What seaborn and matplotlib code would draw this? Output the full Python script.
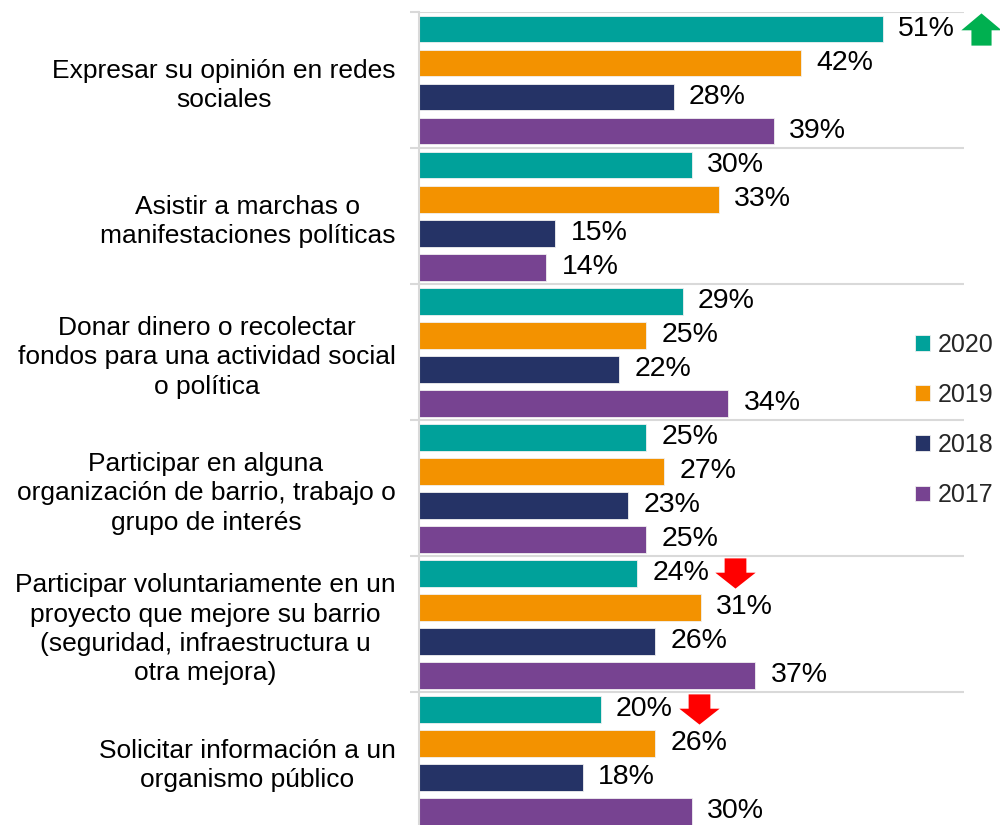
import numpy as np
import pandas as pd
import matplotlib
matplotlib.use("Agg")
import matplotlib.pyplot as plt
from matplotlib.path import Path
import seaborn as sns

categories = [
    "Expresar su opinión en redes\nsociales",
    "Asistir a marchas o\nmanifestaciones políticas",
    "Donar dinero o recolectar\nfondos para una actividad social\no política",
    "Participar en alguna\norganización de barrio, trabajo o\ngrupo de interés",
    "Participar voluntariamente en un\nproyecto que mejore su barrio\n(seguridad, infraestructura u\notra mejora)",
    "Solicitar información a un\norganismo público",
]
years = ["2020", "2019", "2018", "2017"]
v2020 = [51, 30, 29, 25, 24, 20]
v2019 = [42, 33, 25, 27, 31, 26]
v2018 = [28, 15, 22, 23, 26, 18]
v2017 = [39, 14, 34, 25, 37, 30]
series = {"2020": v2020, "2019": v2019, "2018": v2018, "2017": v2017}
colors = ["#00A19A", "#F39200", "#253366", "#774391"]

# trend arrows: (category index, year, direction)
arrows = [(0, "2020", "up"), (4, "2020", "down"), (5, "2020", "down")]

rows = []
for y in years:
    for c, v in zip(categories, series[y]):
        rows.append({"cat": c, "year": y, "val": v})
df = pd.DataFrame(rows)

sns.set_theme(style="white")
plt.rcParams["font.family"] = ["Liberation Sans", "DejaVu Sans"]

fig = plt.figure(figsize=(10, 8.25), dpi=100)
ax = fig.add_axes([0.419, -0.004, 0.5455, 0.98945])

sns.barplot(data=df, y="cat", x="val", hue="year", hue_order=years,
            order=categories, palette=colors, orient="h", width=1.0, gap=0.21,
            saturation=1, edgecolor="#f0f0f0", linewidth=0.6, ax=ax, errorbar=None)

for cont in ax.containers:
    ax.bar_label(cont, fmt="{:.0f}%", padding=11, fontsize=20.5, color="black")

ax.set_xlim(0, 60)
ax.set_ylim(len(categories) - 0.5, -0.5)
ax.set_xlabel("")
ax.set_ylabel("")
ax.set_xticks([])
for s in ["top", "right", "bottom"]:
    ax.spines[s].set_visible(False)
ax.spines["left"].set_color("#d9d9d9")
ax.spines["left"].set_linewidth(1.5)

ax.set_yticks(np.arange(-0.5, len(categories)), minor=True)
ax.grid(which="minor", axis="y", color="#d9d9d9", lw=1.5)
ax.grid(which="major", visible=False)
ax.tick_params(axis="y", which="minor", length=6.5, width=1.5, color="#d9d9d9", left=True)
ax.tick_params(axis="y", which="major", length=0, pad=17, labelsize=19, labelcolor="black")
for lbl in ax.get_yticklabels():
    lbl.set_multialignment("center")
    lbl.set_linespacing(1.28)

sns.move_legend(ax, "center left", bbox_to_anchor=(0.915, 0.491),
                bbox_transform=fig.transFigure, frameon=False, title=None,
                fontsize=18, handlelength=0.6, handleheight=0.6,
                handletextpad=0.3, labelspacing=1.05, borderpad=0, borderaxespad=0)

up_verts = [(0, 0.4), (0.5, -0.02), (0.25, -0.02), (0.25, -0.4),
            (-0.25, -0.4), (-0.25, -0.02), (-0.5, -0.02), (0, 0.4)]
up_path = Path(up_verts, [Path.MOVETO] + [Path.LINETO] * 6 + [Path.CLOSEPOLY])
down_verts = [(0, -0.375), (0.5, 0.02), (0.27, 0.02), (0.27, 0.375),
              (-0.27, 0.375), (-0.27, 0.02), (-0.5, 0.02), (0, -0.375)]
down_path = Path(down_verts, [Path.MOVETO] + [Path.LINETO] * 6 + [Path.CLOSEPOLY])

for ci, yr, d in arrows:
    cont = ax.containers[years.index(yr)]
    patch = cont.patches[ci]
    val = series[yr][ci]
    yc = patch.get_y() + patch.get_height() / 2
    ax.plot(val + 10.8, yc, marker=up_path if d == "up" else down_path,
            ms=29, color="#00B050" if d == "up" else "#FF0000",
            mec="none", clip_on=False, ls="none")

fig.savefig("out.png", dpi=100)
